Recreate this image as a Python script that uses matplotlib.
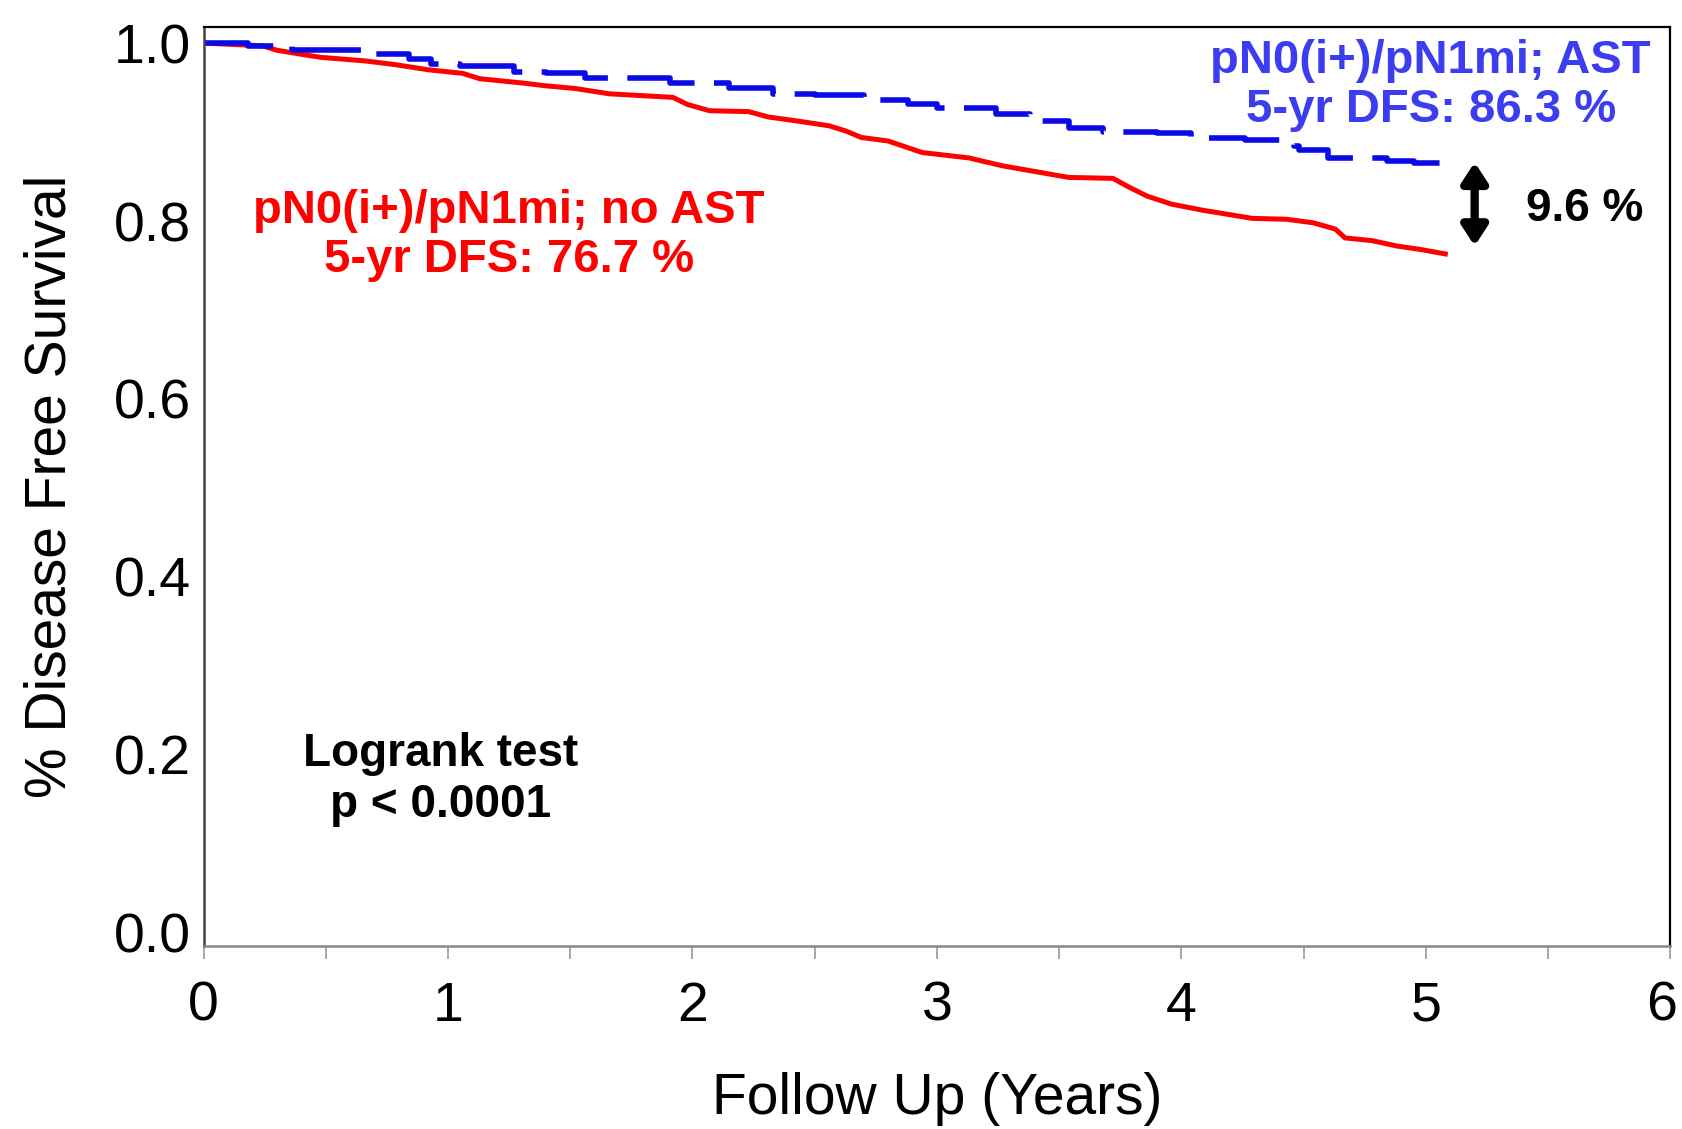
import numpy as np
import matplotlib
matplotlib.use("Agg")
import matplotlib.pyplot as plt
from matplotlib.ticker import MultipleLocator
from matplotlib.transforms import ScaledTranslation

plt.rcParams["font.family"] = ["Liberation Sans", "DejaVu Sans"]

# Kaplan-Meier curves (years, survival fraction)
red_t = [0, 0.24, 0.30, 0.41, 0.48, 0.66, 0.78, 0.92, 1.06, 1.13, 1.31, 1.40, 1.52,
         1.66, 1.79, 1.92, 1.98, 2.07, 2.23, 2.31, 2.44, 2.56, 2.63, 2.69, 2.80, 2.94,
         3.13, 3.27, 3.54, 3.72, 3.78, 3.86, 3.96, 4.09, 4.18, 4.29, 4.43, 4.54, 4.63,
         4.67, 4.78, 4.88, 4.98, 5.08]
red_s = [1.0, 0.997, 0.992, 0.987, 0.984, 0.980, 0.976, 0.970, 0.966, 0.960, 0.955,
         0.952, 0.949, 0.943, 0.941, 0.939, 0.931, 0.924, 0.923, 0.917, 0.912, 0.907,
         0.901, 0.894, 0.890, 0.877, 0.871, 0.862, 0.849, 0.848, 0.839, 0.828, 0.819,
         0.812, 0.808, 0.803, 0.802, 0.798, 0.791, 0.781, 0.778, 0.772, 0.768, 0.763]

blue_t = [0, 0.18, 0.36, 0.70, 0.84, 0.93, 1.05, 1.27, 1.40, 1.56, 1.91, 2.15, 2.33,
          2.50, 2.70, 2.88, 3.00, 3.24, 3.38, 3.54, 3.68, 3.90, 4.04, 4.26, 4.46, 4.48,
          4.60, 4.84, 4.95, 5.10]
blue_s = [1.0, 0.997, 0.992, 0.988, 0.982, 0.977, 0.974, 0.968, 0.966, 0.961, 0.955,
          0.950, 0.943, 0.942, 0.936, 0.932, 0.927, 0.920, 0.912, 0.905, 0.900, 0.899,
          0.893, 0.891, 0.884, 0.880, 0.871, 0.868, 0.865, 0.865]

x_ticks = [0, 1, 2, 3, 4, 5, 6]
y_ticks = [0.0, 0.2, 0.4, 0.6, 0.8, 1.0]

fig = plt.figure(figsize=(16.82, 11.29), dpi=100)
ax = fig.add_axes([0.121, 0.162, 0.872, 0.814])

ax.plot(red_t, red_s, color="#ff0000", lw=3.6)
ax.plot(blue_t, blue_s, color="#0a0ae6", lw=4, drawstyle="steps-post",
        dashes=(13, 3.5))

ax.set_xlim(0, 6)
ax.set_ylim(-0.015, 1.018)
ax.set_xticks(x_ticks)
ax.set_yticks(y_ticks)
ax.set_yticklabels([f"{v:.1f}" for v in y_ticks])
ax.xaxis.set_minor_locator(MultipleLocator(0.5))
ax.tick_params(axis="x", which="both", length=9, width=1.2, color="#999999",
               labelsize=40, pad=16)
ax.tick_params(axis="y", length=0, labelsize=40, pad=9)

# keep the last x label inside the figure
last = ax.get_xticklabels()[-1]
last.set_transform(last.get_transform() + ScaledTranslation(-6 / 72, 0, fig.dpi_scale_trans))

for side in ["top", "right"]:
    ax.spines[side].set_color("black")
    ax.spines[side].set_linewidth(1.6)
ax.spines["left"].set_color("#444444")
ax.spines["left"].set_linewidth(1.8)
ax.spines["bottom"].set_color("#888888")
ax.spines["bottom"].set_linewidth(1.8)

ax.set_xlabel("Follow Up (Years)", fontsize=41, labelpad=28)
ax.set_ylabel("% Disease Free Survival", fontsize=41, labelpad=26)

ax.text(5.02, 0.952, "pN0(i+)/pN1mi; AST\n5-yr DFS: 86.3 %", color="#3c3cf0",
        fontsize=34, fontweight="bold", ha="center", va="center", linespacing=1.15)
ax.text(1.25, 0.784, "pN0(i+)/pN1mi; no AST\n5-yr DFS: 76.7 %", color="#ff0000",
        fontsize=34, fontweight="bold", ha="center", va="center", linespacing=1.15)
ax.text(0.97, 0.172, "Logrank test\np < 0.0001", color="black",
        fontsize=33, fontweight="bold", ha="center", va="center", linespacing=1.2)
ax.text(5.65, 0.814, "9.6 %", color="black", fontsize=33, fontweight="bold",
        ha="center", va="center")

ax.annotate("", xy=(5.20, 0.772), xytext=(5.20, 0.866),
            arrowprops=dict(arrowstyle="<|-|>,head_width=0.75,head_length=1.15",
                            color="black", lw=6, shrinkA=0, shrinkB=0))

fig.savefig("out.png", dpi=100)
